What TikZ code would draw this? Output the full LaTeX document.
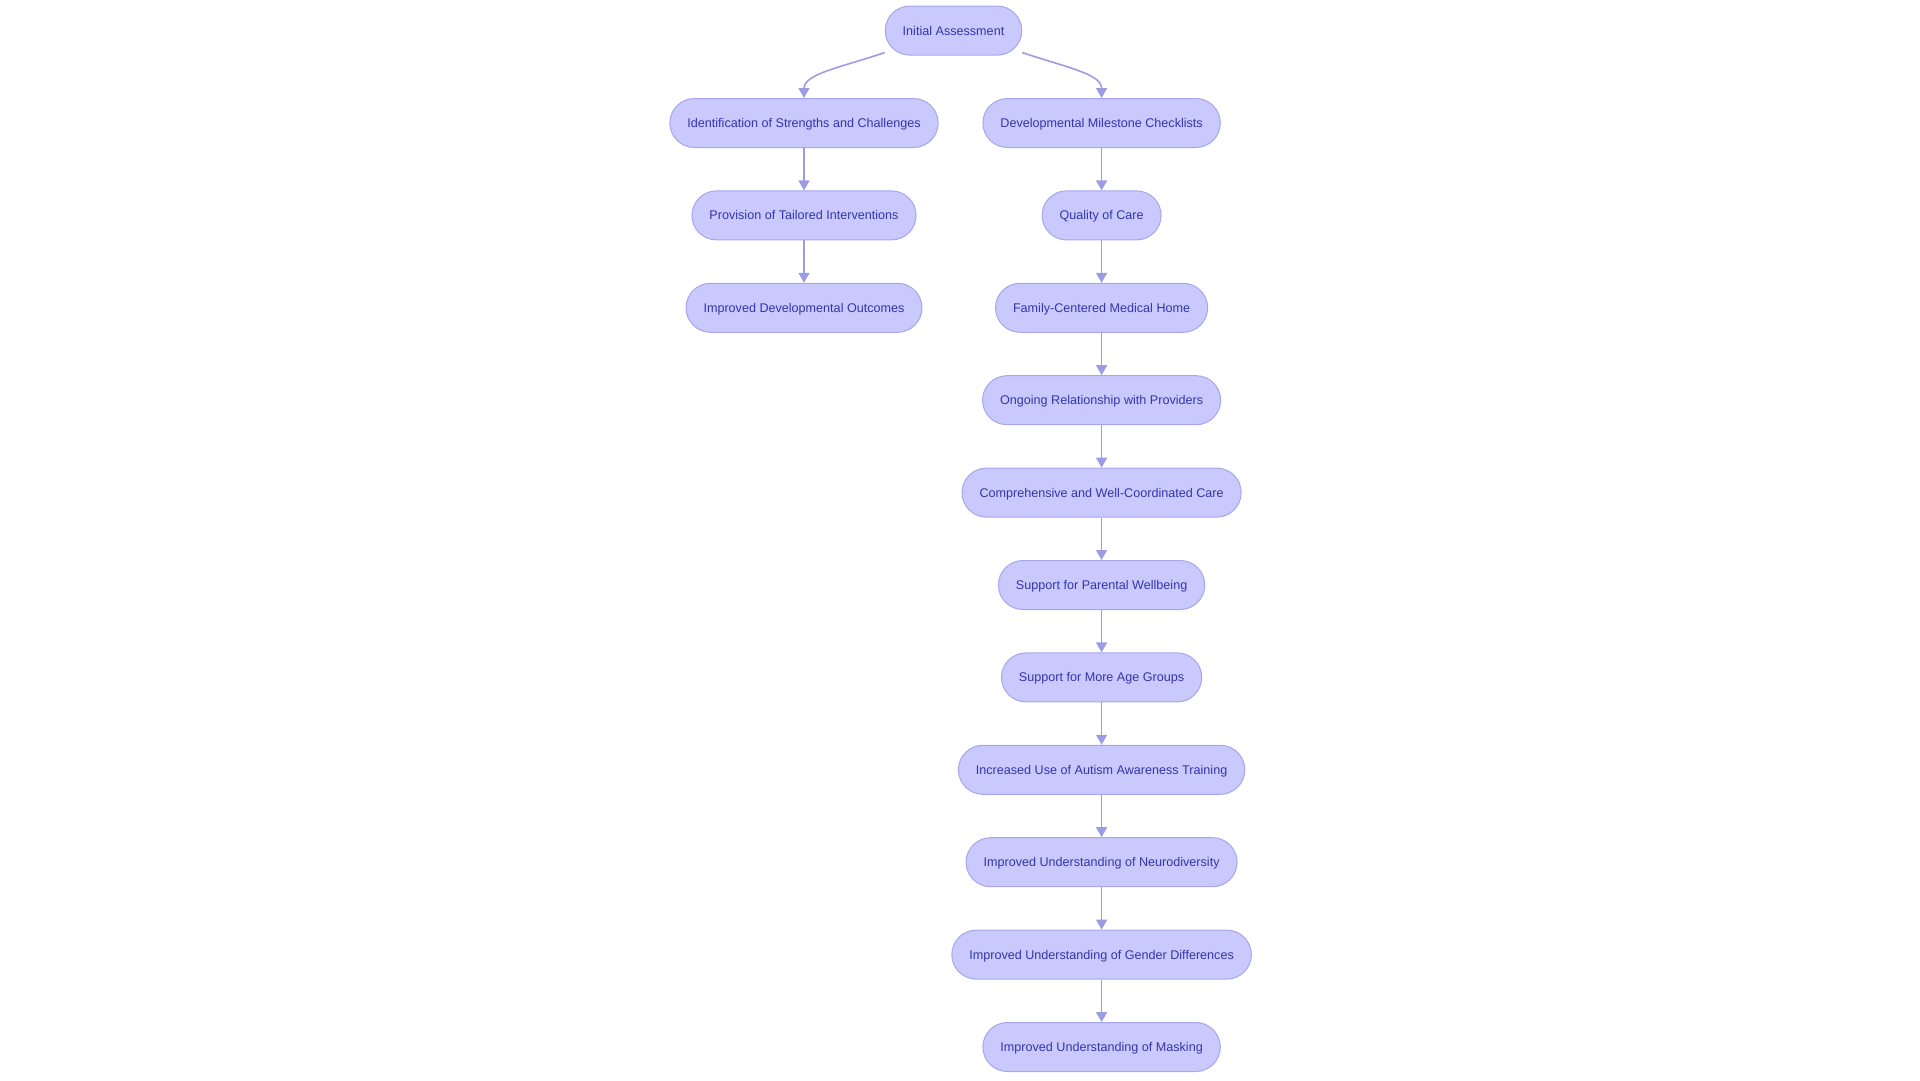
\documentclass[tikz,border=0pt]{standalone}
\usepackage{fontspec}
\setmainfont{Liberation Sans}
\usetikzlibrary{arrows.meta}
\definecolor{boxfill}{HTML}{C9C9FD}
\definecolor{boxline}{HTML}{A6A6EC}
\definecolor{boxtext}{HTML}{3535AA}
\definecolor{edgeline}{HTML}{9C9CE6}

\begin{document}
\begin{tikzpicture}[x=1pt,y=-1pt,
	box/.style={draw=boxline, fill=boxfill, line width=1pt, rounded corners=24.5pt, minimum height=49pt, inner xsep=17.5pt, inner ysep=0pt, text height=9.1pt, text depth=0pt, text=boxtext, font=\fontsize{12.6}{15}\selectfont},
	link/.style={draw=edgeline, line width=1.6pt, -{Triangle[length=10pt,width=11pt]}}]
	\useasboundingbox (0,0) rectangle (1920,1080);
	%top
		\node[box] (init) at (953.5,30.6) {Initial Assessment};
	%left branch
		\node[box] (ident) at (804,123) {Identification of Strengths and Challenges};
		\node[box] (provis) at (804,215.4) {Provision of Tailored Interventions};
		\node[box] (devout) at (804,307.8) {Improved Developmental Outcomes};
	%right branch
		\node[box] (milest) at (1101.6,123) {Developmental Milestone Checklists};
		\node[box] (quality) at (1101.6,215.4) {Quality of Care};
		\node[box] (medhome) at (1101.6,307.8) {Family-Centered Medical Home};
		\node[box] (ongoing) at (1101.6,400.2) {Ongoing Relationship with Providers};
		\node[box] (coordcare) at (1101.6,492.6) {Comprehensive and Well-Coordinated Care};
		\node[box] (parental) at (1101.6,585) {Support for Parental Wellbeing};
		\node[box] (agegroups) at (1101.6,677.4) {Support for More Age Groups};
		\node[box] (training) at (1101.6,769.8) {Increased Use of Autism Awareness Training};
		\node[box] (neurodiv) at (1101.6,862.2) {Improved Understanding of Neurodiversity};
		\node[box] (gender) at (1101.6,954.6) {Improved Understanding of Gender Differences};
		\node[box] (masking) at (1101.6,1047) {Improved Understanding of Masking};
	%split
		\draw[link] (init.south west) ++(0,-3) .. controls +(-45,15) and +(0,-24) .. (ident.north);
		\draw[link] (init.south east) ++(0,-3) .. controls +(45,15) and +(0,-24) .. (milest.north);
	%left chain
		\draw[link] (ident) -- (provis);
		\draw[link] (provis) -- (devout);
	%right chain
		\draw[link] (milest) -- (quality);
		\draw[link] (quality) -- (medhome);
		\draw[link] (medhome) -- (ongoing);
		\draw[link] (ongoing) -- (coordcare);
		\draw[link] (coordcare) -- (parental);
		\draw[link] (parental) -- (agegroups);
		\draw[link] (agegroups) -- (training);
		\draw[link] (training) -- (neurodiv);
		\draw[link] (neurodiv) -- (gender);
		\draw[link] (gender) -- (masking);
\end{tikzpicture}
\end{document}
